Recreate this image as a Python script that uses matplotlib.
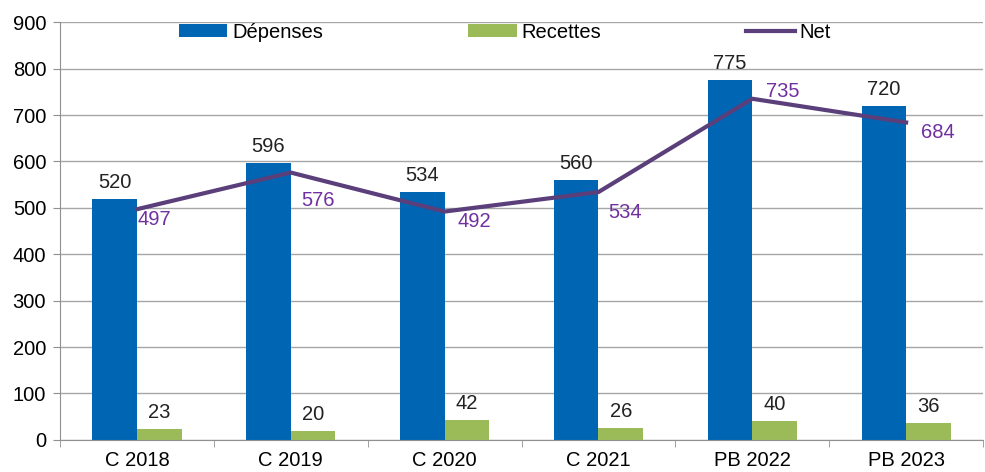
import numpy as np
import matplotlib.pyplot as plt
from matplotlib import rcParams

rcParams["font.family"] = ["Liberation Sans", "DejaVu Sans"]
rcParams["font.size"] = 14.5

categories = ["C 2018", "C 2019", "C 2020", "C 2021", "PB 2022", "PB 2023"]
depenses = [520, 596, 534, 560, 775, 720]
recettes = [23, 20, 42, 26, 40, 36]
net = [497, 576, 492, 534, 735, 684]

blue = "#0066b3"
green = "#9bbb59"
purple = "#5a3f7a"
labelPurple = "#7030a0"

fig = plt.figure(figsize=(9.85, 4.72), dpi=100)
ax = fig.add_axes([0.061, 0.068, 0.937, 0.885])

x = np.arange(len(categories))
w = 0.29
bars1 = ax.bar(x - w / 2, depenses, w, color=blue, label="Dépenses", zorder=2)
bars2 = ax.bar(x + w / 2, recettes, w, color=green, label="Recettes", zorder=2)
line, = ax.plot(x, net, color=purple, lw=3, label="Net", zorder=3)

for xi, v in zip(x, depenses):
    ax.annotate(str(v), (xi - w / 2, v), xytext=(0, 7), textcoords="offset pixels",
                ha="center", va="bottom", color="#222222")
for xi, v in zip(x, recettes):
    ax.annotate(str(v), (xi + w / 2, v), xytext=(0, 7), textcoords="offset pixels",
                ha="center", va="bottom", color="#222222")
# label offsets in pixels (right, up)
netOffsets = [(17, -10), (27, -28), (30, -10), (27, -20), (30, 7), (32, -10)]
for xi, v, off in zip(x, net, netOffsets):
    ax.annotate(str(v), (xi, v), xytext=off, textcoords="offset pixels",
                ha="center", va="center", color=labelPurple)

ax.set_xlim(-0.5, len(categories) - 0.5)
ax.set_ylim(0, 900)
ax.set_yticks(np.arange(0, 901, 100))
ax.set_xticks(x)
ax.set_xticklabels(categories)
ax.set_xticks(np.arange(-0.5, len(categories), 1), minor=True)
ax.tick_params(axis="x", which="major", length=0, pad=8)
ax.tick_params(axis="x", which="minor", length=5, color="#909090")
ax.tick_params(axis="y", length=5, color="#909090", pad=5)

ax.grid(axis="y", color="#a6a6a6", lw=1, zorder=0)
ax.set_axisbelow(True)
for s in ["top", "right"]:
    ax.spines[s].set_visible(False)
for s in ["left", "bottom"]:
    ax.spines[s].set_color("#909090")

fig.legend([bars1, bars2, line], ["Dépenses", "Recettes", "Net"],
           loc="center", bbox_to_anchor=(505 / 985, 1 - 32 / 472), ncol=3, frameon=False,
           columnspacing=7.2, handlelength=2.4, handleheight=0.6, handletextpad=0.25)

fig.savefig("out.png", dpi=100)
